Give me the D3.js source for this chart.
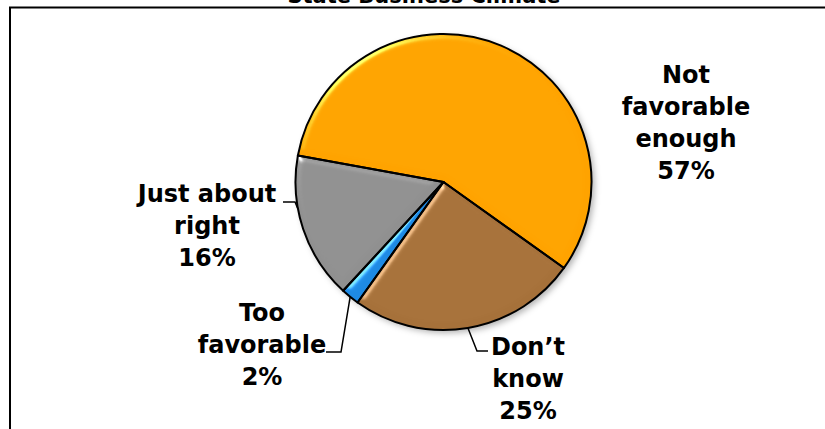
<!DOCTYPE html>
<html>
<head>
<meta charset="utf-8">
<script src="https://cdn.jsdelivr.net/npm/d3@7"></script>
<style>
  html, body { margin: 0; padding: 0; background: #fff; }
  svg { display: block; }
  text { font-family: Verdana, "DejaVu Sans", sans-serif; font-weight: bold; fill: #000; }
</style>
</head>
<body>
<svg id="chart" width="825" height="429"></svg>
<script>
// Survey answers: how favorable is the state business climate
const categories = ["Not favorable enough", "Don’t know", "Too favorable", "Just about right"];
const values = [57, 25, 2, 16];
const labelLines = [["Not", "favorable", "enough"], ["Don’t", "know"], ["Too", "favorable"], ["Just about", "right"]];
const colors = ["#FFA300", "#A6713A", "#1E8AE4", "#909090"];
const title = "State Business Climate";

const W = 825, H = 429;
const cx = 443.5, cy = 182, R = 148;
const startDeg = -79.7;

const svg = d3.select("#chart");
const defs = svg.append("defs");

// soft shadow under the whole pie
const shadow = defs.append("filter").attr("id", "pieShadow")
  .attr("color-interpolation-filters", "sRGB")
  .attr("x", "-20%").attr("y", "-20%").attr("width", "140%").attr("height", "140%");
shadow.append("feDropShadow").attr("dx", 3).attr("dy", 3)
  .attr("stdDeviation", 3).attr("flood-color", "#000").attr("flood-opacity", 0.3);

// bevel: light inner rim on each wedge
const bevel = defs.append("filter").attr("id", "bevel")
  .attr("color-interpolation-filters", "sRGB")
  .attr("x", "-10%").attr("y", "-10%").attr("width", "120%").attr("height", "120%");
bevel.append("feGaussianBlur").attr("in", "SourceAlpha").attr("stdDeviation", 3).attr("result", "blur");
const spec = bevel.append("feSpecularLighting").attr("in", "blur")
  .attr("surfaceScale", 3).attr("specularConstant", 0.45).attr("specularExponent", 30)
  .attr("lighting-color", "#ffffff").attr("result", "spec");
spec.append("feDistantLight").attr("azimuth", 235).attr("elevation", 30);
bevel.append("feComposite").attr("in", "spec").attr("in2", "SourceAlpha").attr("operator", "in").attr("result", "specIn");
bevel.append("feComposite").attr("in", "SourceGraphic").attr("in2", "specIn")
  .attr("operator", "arithmetic").attr("k1", 0).attr("k2", 1).attr("k3", 1).attr("k4", 0);

// frame (top and left edges show inside the view)
svg.append("line").attr("x1", 9).attr("x2", W).attr("y1", 7.5).attr("y2", 7.5)
  .attr("stroke", "#000").attr("stroke-width", 2);
svg.append("line").attr("x1", 10).attr("x2", 10).attr("y1", 7).attr("y2", H)
  .attr("stroke", "#000").attr("stroke-width", 2);

// title, mostly above the frame
svg.append("text").attr("x", 424).attr("y", 3).attr("text-anchor", "middle")
  .attr("font-size", 21).text(title);

const data = categories.map((c, i) => ({ name: c, value: values[i], color: colors[i], lines: labelLines[i] }));
const toRad = d => d * Math.PI / 180;
const pie = d3.pie().sort(null).value(d => d.value)
  .startAngle(toRad(startDeg)).endAngle(toRad(startDeg) + 2 * Math.PI);
const arcs = pie(data);
const arc = d3.arc().innerRadius(0).outerRadius(R);

const g = svg.append("g").attr("transform", `translate(${cx},${cy})`);
const body = g.append("g").attr("filter", "url(#pieShadow)");
body.selectAll("path.fill").data(arcs).join("path")
  .attr("class", "fill")
  .attr("d", arc)
  .attr("fill", d => d.data.color)
  .attr("filter", "url(#bevel)");
g.selectAll("path.edge").data(arcs).join("path")
  .attr("class", "edge")
  .attr("d", arc)
  .attr("fill", "none")
  .attr("stroke", "#000")
  .attr("stroke-width", 2)
  .attr("stroke-linejoin", "round");

// label placement (page coordinates of the text block centre x and first baseline)
const labelPos = {
  "Not favorable enough": { x: 686, y: 83, lead: null },
  "Don’t know": { x: 528, y: 355, lead: { angleShift: 0, elbow: [477, 351], end: [488, 351] } },
  "Too favorable": { x: 262, y: 321, lead: { angleShift: 0, elbow: [341, 352], end: [326, 352] } },
  "Just about right": { x: 207, y: 202, lead: { angleShift: 8, elbow: [295, 202], end: [283, 202] } }
};
const lineGap = 32;
const fmt = v => v + "%";

arcs.forEach(a => {
  const p = labelPos[a.data.name];
  const lines = a.data.lines.concat([fmt(a.data.value)]);
  const t = svg.append("text").attr("text-anchor", "middle").attr("font-size", 24);
  lines.forEach((ln, i) => {
    t.append("tspan").attr("x", p.x).attr("y", p.y + i * lineGap).text(ln);
  });
  if (p.lead) {
    const mid = (a.startAngle + a.endAngle) / 2 + toRad(p.lead.angleShift);
    const ex = cx + R * Math.sin(mid), ey = cy - R * Math.cos(mid);
    svg.append("polyline")
      .attr("points", [[ex, ey], p.lead.elbow, p.lead.end].map(q => q.join(",")).join(" "))
      .attr("fill", "none").attr("stroke", "#000").attr("stroke-width", 1.5);
  }
});
</script>
</body>
</html>
